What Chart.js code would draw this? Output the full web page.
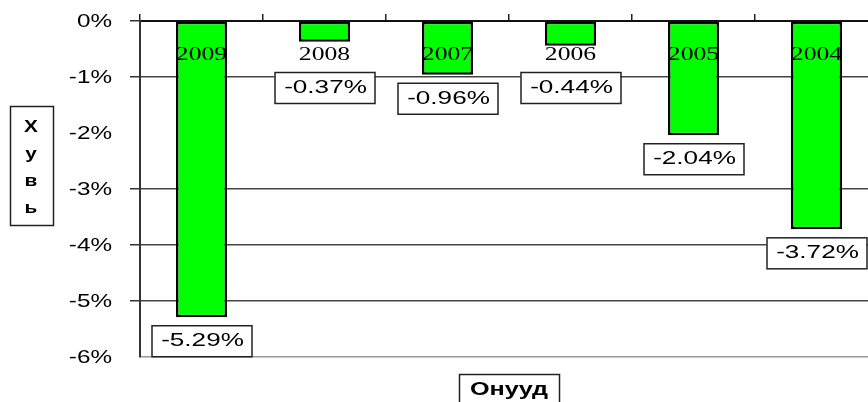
<!DOCTYPE html>
<html>
<head>
<meta charset="utf-8">
<script src="https://cdn.jsdelivr.net/npm/chart.js@4"></script>
<style>
  html, body { margin:0; padding:0; background:#fff; overflow:hidden; }
  canvas { display:block; }
</style>
</head>
<body>
<canvas id="chart" width="880" height="402"></canvas>
<script>
// year-on-year change, shown left to right from newest year
const years   = ['2009', '2008', '2007', '2006', '2005', '2004'];
const changes = [-5.29, -0.37, -0.96, -0.44, -2.04, -3.72];
const yTitle  = ['Х', 'у', 'в', 'ь'];
const xTitle  = 'Онууд';

const SANS  = '"Liberation Sans", Arial, sans-serif';
const SERIF = '"Liberation Serif", "Times New Roman", serif';

// reference text is stretched sideways, so draw it scaled on x
function wideText(ctx, txt, x, y, font, sx, align = 'center') {
  ctx.save();
  ctx.font = font;
  ctx.fillStyle = '#000';
  ctx.textAlign = align;
  ctx.textBaseline = 'middle';
  ctx.translate(x, y);
  ctx.scale(sx, 1);
  ctx.fillText(txt, 0, 0);
  ctx.restore();
}

function box(ctx, x, y, w, h) {
  ctx.fillStyle = '#fff';
  ctx.fillRect(x, y, w, h);
  ctx.strokeStyle = '#222';
  ctx.lineWidth = 1.5;
  ctx.strokeRect(x + 0.5, y + 0.5, w, h);
}

const boxLabels = {
  id: 'boxLabels',
  afterDatasetsDraw(chart) {
    const { ctx, chartArea, scales: { x, y } } = chart;

    // y tick labels
    y.ticks.forEach(t => {
      wideText(ctx, t.value + '%', 112, y.getPixelForValue(t.value) + 1, '18px ' + SANS, 1.35, 'right');
    });

    years.forEach((yr, i) => {
      const cx = x.getPixelForValue(i);
      wideText(ctx, yr, cx, 55, '19px ' + SERIF, 1.35);

      const end = y.getPixelForValue(changes[i]);
      const top = Math.max(end + 8, 72);
      box(ctx, cx - 50, top, 100, 31);
      wideText(ctx, changes[i].toFixed(2) + '%', cx + 1, top + 16, '18px ' + SANS, 1.45);
    });

    // y title, letters stacked in a box
    box(ctx, 10, 106, 43, 119);
    yTitle.forEach((ch, i) => wideText(ctx, ch, 31, 128 + i * 27, 'bold 16px ' + SANS, 1.3));

    // x title
    const mid = (chartArea.left + chartArea.right) / 2;
    box(ctx, mid - 50, 374, 100, 30);
    wideText(ctx, xTitle, mid, 390, 'bold 18px ' + SANS, 1.4);
  }
};

new Chart(document.getElementById('chart'), {
  type: 'bar',
  data: {
    labels: years,
    datasets: [{
      data: changes,
      backgroundColor: '#00ff00',
      borderColor: '#000',
      borderWidth: 2.5,
      borderSkipped: false,
      categoryPercentage: 1,
      barPercentage: 0.415
    }]
  },
  options: {
    responsive: false,
    devicePixelRatio: 1,
    animation: false,
    layout: { padding: { left: 0, top: 0, right: 2, bottom: 45 } },
    plugins: { legend: { display: false }, tooltip: { enabled: false } },
    scales: {
      x: {
        position: 'top',
        offset: true,
        afterFit: s => { s.height = 21; },
        ticks: { display: false },
        grid: { drawOnChartArea: false, tickLength: 7, color: '#222', lineWidth: 1.5, offset: true },
        border: { color: '#111', width: 2 }
      },
      y: {
        min: -6, max: 0,
        afterFit: s => { s.width = 140; },
        ticks: { display: false, stepSize: 1 },
        grid: {
          tickLength: 10,
          lineWidth: 1.5,
          color: c => c.tick.value === -2 ? 'rgba(0,0,0,0)' : (c.tick.value === -6 ? '#999' : '#444'),
          tickColor: c => (c.tick.value === -2 || c.tick.value === -6) ? 'rgba(0,0,0,0)' : '#333'
        },
        border: { color: '#333', width: 2 }
      }
    }
  },
  plugins: [boxLabels]
});
</script>
</body>
</html>
